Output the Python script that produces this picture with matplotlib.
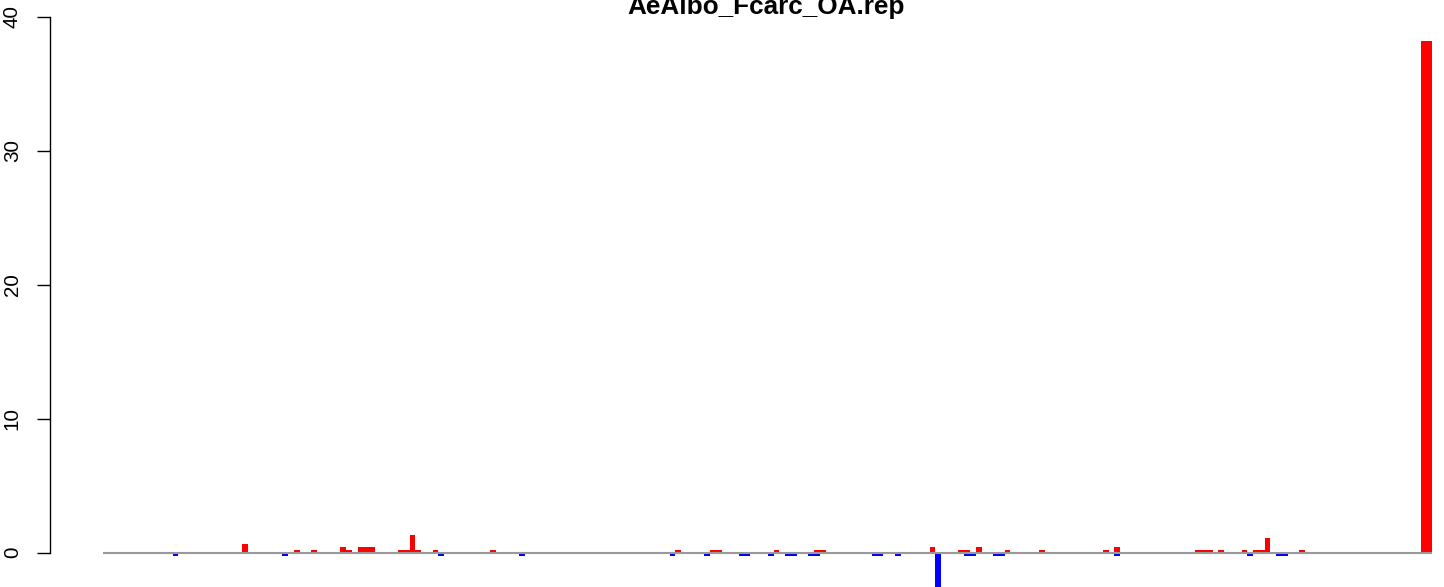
import matplotlib
matplotlib.use("Agg")
import matplotlib.pyplot as plt

plt.rcParams['font.family'] = ['Liberation Sans', 'DejaVu Sans']

# 230 bins along the genome, gains drawn in red and losses in blue
n_bins = 230
gain_bins = [24, 33, 36, 41, 42, 44, 45, 46, 51, 52, 53, 54, 57, 67, 99, 105, 106,
             116, 123, 124, 143, 148, 149, 151, 156, 162, 173, 175, 189, 190, 191,
             193, 197, 199, 200, 201, 207, 228, 229]
gain_values = [0.65, 0.22, 0.22, 0.45, 0.22, 0.45, 0.45, 0.45, 0.22, 0.22, 1.32, 0.22,
               0.22, 0.22, 0.22, 0.22, 0.22, 0.22, 0.22, 0.22, 0.45, 0.22, 0.22, 0.45,
               0.22, 0.22, 0.22, 0.45, 0.22, 0.22, 0.22, 0.22, 0.22, 0.22, 0.22, 1.1,
               0.22, 38.2, 38.2]
loss_bins = [12, 31, 58, 72, 98, 104, 110, 111, 115, 118, 119, 122, 123, 133, 134,
             137, 144, 149, 150, 154, 155, 175, 198, 203, 204]
loss_values = [-0.22, -0.22, -0.22, -0.22, -0.22, -0.22, -0.22, -0.22, -0.22, -0.22,
               -0.22, -0.22, -0.22, -0.22, -0.22, -0.22, -3.0, -0.22, -0.22, -0.22,
               -0.22, -0.22, -0.22, -0.22, -0.22]
y_ticks = [0, 10, 20, 30, 40]
title = "AeAlbo_Fcarc_OA.rep"

fig = plt.figure(figsize=(14.44, 5.87), dpi=100)
pad = 0.04 * n_bins
ax = fig.add_axes([50.1 / 1444, 0, (1329 + 2 * pad * 5.778) / 1444, 1])

ax.bar(gain_bins, gain_values, width=1, align='edge', color='#FF0000', linewidth=0)
ax.bar(loss_bins, loss_values, width=1, align='edge', color='#0000FF', linewidth=0)
ax.hlines(0, 0, n_bins, color='#999999', linewidth=1.5, zorder=3)

ax.set_xlim(-pad, n_bins + pad)
ax.set_ylim(-34.3 / 13.4, 552.7 / 13.4)

for side in ['top', 'right', 'bottom']:
    ax.spines[side].set_visible(False)
ax.spines['left'].set_bounds(0, 40)
ax.spines['left'].set_linewidth(1.0)
ax.set_xticks([])
ax.set_yticks(y_ticks)
ax.set_yticklabels([str(t) for t in y_ticks], rotation=90, va='center', fontsize=14.9)
ax.tick_params(axis='y', length=9.4, width=1.0, pad=11)

fig.text(766 / 1444, 1 - 14 / 587, title, ha='center', va='baseline',
         fontsize=18.8, fontweight='bold')

fig.savefig("out.png", dpi=100)
